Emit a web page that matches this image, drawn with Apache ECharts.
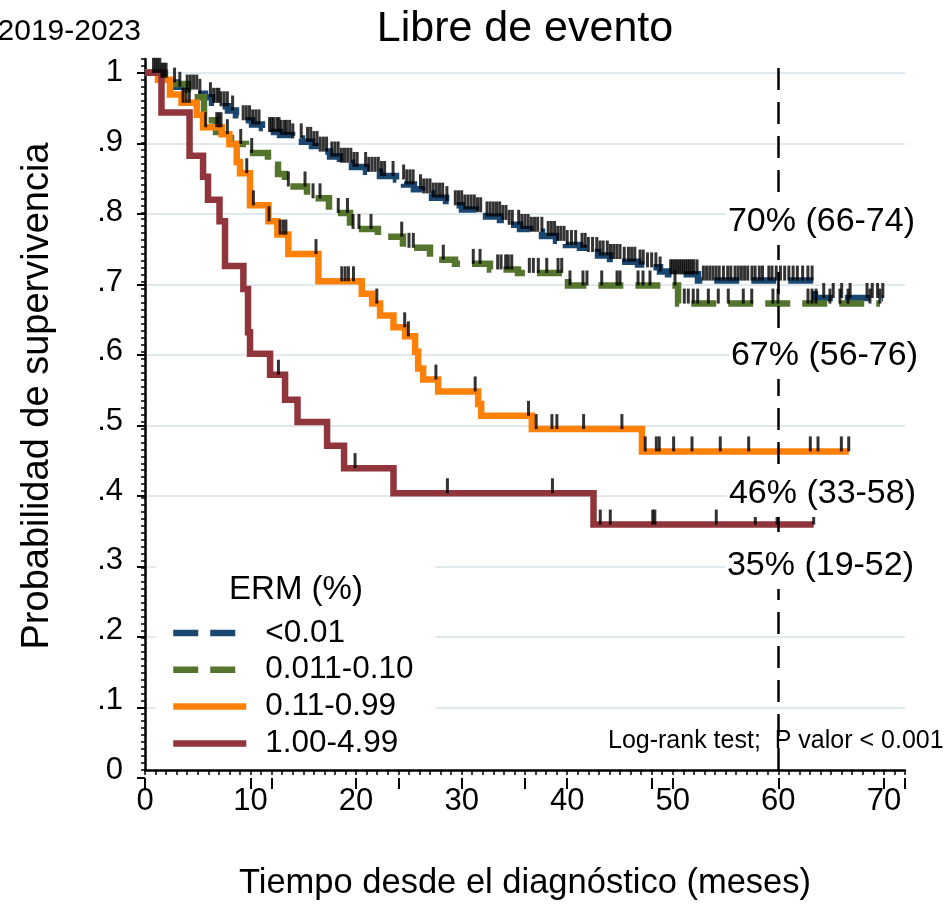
<!DOCTYPE html>
<html><head><meta charset="utf-8">
<script src="https://cdn.jsdelivr.net/npm/echarts@6/dist/echarts.min.js"></script>
<style>html,body{margin:0;padding:0;background:#fff}#c{width:952px;height:906px}</style>
</head><body><div id="c"></div>
<script>
const FONT = '"Liberation Sans", Arial, Helvetica, sans-serif';

// ---- categories / styles ----
const seriesNames = ['<0.01', '0.011-0.10', '0.11-0.99', '1.00-4.99'];
const seriesColors = ['#1a476f', '#55752f', '#fd8008', '#90353b'];

// ---- tick labels ----
const xTickValues = [0, 10, 20, 30, 40, 50, 60, 70];
const yTickValues = [0, 10, 20, 30, 40, 50, 60, 70, 80, 90, 100]; // in hundredths
const yTickLabels = ['0', '.1', '.2', '.3', '.4', '.5', '.6', '.7', '.8', '.9', '1'];

// ---- group <0.01 ----
const g1Times = [1.42, 2.18, 2.94, 3.88, 4.93, 5.68, 6.35, 7.11, 7.86, 8.62, 9.28, 10.14, 11.08, 11.65, 12.79, 13.93, 14.87, 15.82, 16.58, 17.53, 18.47, 19.61, 20.94, 22.26, 23.78, 24.54, 25.48, 26.24, 27.19, 28.52, 29.08, 30.03, 31.36, 32.31, 33.63, 34.39, 35.53, 36.47, 37.61, 38.94, 39.88, 41.21, 41.97, 42.92, 44.06, 45.19, 46.71, 47.47, 48.79, 49.55, 52.39, 63.47];
const g1Surv = [0.993, 0.986, 0.980, 0.976, 0.970, 0.965, 0.957, 0.952, 0.946, 0.939, 0.932, 0.926, 0.921, 0.915, 0.911, 0.906, 0.901, 0.895, 0.887, 0.880, 0.871, 0.865, 0.858, 0.852, 0.847, 0.840, 0.833, 0.827, 0.821, 0.816, 0.810, 0.804, 0.800, 0.794, 0.789, 0.782, 0.776, 0.772, 0.766, 0.759, 0.753, 0.749, 0.743, 0.738, 0.733, 0.729, 0.725, 0.721, 0.715, 0.711, 0.702, 0.677];
const g1End = 69.92;
const g1Censor = [0.8, 1.0, 1.2, 1.4, 1.6, 1.8, 2.0, 2.8, 3.3, 4.0, 4.3, 4.6, 4.9, 5.2, 6.2, 6.5, 6.8, 7.0, 7.2, 7.5, 7.8, 8.3, 9.3, 9.6, 9.9, 10.2, 10.5, 10.8, 11.8, 12.0, 12.2, 12.5, 12.7, 12.9, 13.2, 13.4, 13.7, 14.0, 14.8, 15.4, 15.7, 16.0, 16.3, 16.6, 16.9, 17.2, 17.7, 18.0, 18.3, 18.6, 18.9, 19.2, 19.5, 19.8, 20.1, 20.9, 21.2, 21.5, 21.8, 22.1, 22.4, 22.7, 23.5, 24.5, 24.8, 25.1, 25.4, 26.1, 26.4, 26.7, 27.0, 27.3, 27.6, 27.9, 28.2, 28.6, 29.4, 29.7, 30.0, 30.3, 30.6, 30.9, 31.2, 31.5, 31.8, 32.4, 32.7, 33.0, 33.3, 33.6, 33.9, 34.2, 34.5, 34.8, 35.4, 35.7, 36.0, 36.3, 36.6, 36.9, 37.2, 37.6, 38.2, 38.5, 38.8, 39.1, 39.4, 39.7, 40.0, 40.4, 40.8, 41.4, 41.7, 42.0, 42.4, 42.8, 43.1, 43.4, 43.8, 44.1, 44.4, 44.7, 45.0, 45.4, 45.8, 46.1, 46.4, 46.9, 47.2, 47.6, 48.0, 48.4, 48.8, 49.8, 50.0, 50.2, 50.4, 50.6, 50.8, 51.0, 51.2, 51.4, 51.6, 51.8, 52.0, 52.3, 52.9, 53.2, 53.5, 53.8, 54.1, 54.4, 54.8, 55.2, 55.5, 55.9, 56.2, 56.5, 56.8, 57.1, 57.5, 57.8, 58.2, 58.5, 59.1, 59.4, 59.8, 60.2, 60.6, 61.0, 61.4, 61.8, 62.3, 62.8, 63.2, 64.3, 65.2, 66.0, 66.8, 68.4, 68.9, 69.4, 69.9];

// ---- group 0.011-0.10 ----
const g2Times = [1.89, 4.07, 5.59, 6.73, 8.15, 9.57, 11.65, 12.60, 13.26, 15.35, 17.43, 19.42, 22.07, 24.44, 27.0, 29.37, 32.68, 35.34, 40.07, 50.50];
const g2Surv = [0.984, 0.965, 0.932, 0.915, 0.898, 0.885, 0.868, 0.855, 0.837, 0.820, 0.799, 0.776, 0.765, 0.749, 0.732, 0.726, 0.718, 0.713, 0.695, 0.669];
const g2End = 69.63;
const g2Censor = [9.07, 10.11, 13.58, 15.16, 15.92, 16.58, 18.31, 19.18, 19.71, 20.27, 21.41, 24.32, 25.01, 25.42, 28.26, 31.10, 31.74, 33.41, 33.73, 34.17, 34.42, 34.74, 36.41, 36.79, 37.26, 38.06, 39.13, 39.48, 40.26, 41.49, 41.87, 43.27, 44.72, 45.0, 46.71, 47.18, 47.84, 50.21, 51.09, 51.47, 51.94, 52.36, 53.37, 54.31, 55.26, 56.68, 57.48, 59.49, 59.97, 62.81, 63.19, 63.57, 64.89, 65.84, 66.6, 68.68, 69.63];

// ---- group 0.11-0.99 ----
const g3Times = [1.23, 2.37, 3.46, 4.90, 5.50, 7.27, 7.99, 8.69, 9.00, 9.95, 11.69, 12.54, 13.58, 16.43, 20.54, 21.52, 22.27, 23.54, 24.64, 25.59, 25.88, 26.35, 27.77, 31.56, 31.85, 36.65, 47.08];
const g3Surv = [0.990, 0.969, 0.957, 0.940, 0.922, 0.912, 0.898, 0.872, 0.856, 0.810, 0.787, 0.768, 0.740, 0.701, 0.683, 0.669, 0.652, 0.635, 0.622, 0.600, 0.576, 0.560, 0.543, 0.525, 0.508, 0.489, 0.457];
const g3End = 66.67;
const g3Censor = [3.6, 3.9, 4.2, 5.75, 6.8, 7.0, 7.2, 7.8, 9.64, 10.27, 11.75, 12.8, 13.1, 13.35, 16.2, 18.64, 18.96, 19.27, 19.75, 21.96, 24.6, 24.95, 27.56, 31.28, 36.33, 37.06, 38.55, 39.02, 41.55, 45.18, 47.39, 48.44, 48.72, 50.08, 51.82, 54.5, 57.19, 63.03, 63.76, 65.97, 66.67];

// ---- group 1.00-4.99 ----
const g4Times = [1.56, 4.22, 5.50, 5.97, 7.06, 7.58, 9.32, 9.76, 9.95, 11.85, 13.27, 14.45, 17.25, 18.86, 23.54, 42.49];
const g4Surv = [0.943, 0.881, 0.851, 0.818, 0.787, 0.723, 0.690, 0.628, 0.597, 0.567, 0.531, 0.499, 0.465, 0.433, 0.397, 0.352];
const g4End = 63.35;
const g4Censor = [12.64, 19.9, 28.65, 38.6, 43.13, 44.08, 48.1, 48.3, 54.12, 57.82, 59.88, 63.35];

// ---- annotations ----
const refTime = 60;
const estLabels = ['70% (66-74)', '67% (56-76)', '46% (33-58)', '35% (19-52)'];

const groups = [
  {t: g1Times, s: g1Surv, end: g1End, c: g1Censor, dash: [25, 12]},
  {t: g2Times, s: g2Surv, end: g2End, c: g2Censor, dash: [25, 12]},
  {t: g3Times, s: g3Surv, end: g3End, c: g3Censor, dash: 'solid'},
  {t: g4Times, s: g4Surv, end: g4End, c: g4Censor, dash: 'solid'}
];

function stepData(g) {
  const d = [[0, 1]];
  for (let i = 0; i < g.t.length; i++) d.push([g.t[i], g.s[i]]);
  d.push([g.end, g.s[g.s.length - 1]]);
  return d;
}
function survAt(g, t) {
  let s = 1;
  for (let i = 0; i < g.t.length; i++) if (g.t[i] <= t) s = g.s[i];
  return s;
}

const series = [];
groups.forEach((g, i) => {
  const ser = {
    name: seriesNames[i], type: 'line', step: 'end', xAxisIndex: 0, yAxisIndex: 0,
    data: stepData(g), showSymbol: false, symbol: 'none', silent: true, z: 2 + i * 0.1,
    lineStyle: {color: seriesColors[i], width: 6.5, type: g.dash, cap: 'butt', join: 'miter'},
    itemStyle: {color: seriesColors[i]}
  };
  if (i === 0) {
    ser.markLine = {
      silent: true, symbol: 'none', label: {show: false},
      lineStyle: {color: '#000', width: 2.5, type: [22, 12]},
      data: [{xAxis: refTime}]
    };
  }
  series.push(ser);
});
groups.forEach((g, i) => {
  series.push({
    name: 'cens' + i, type: 'scatter', xAxisIndex: 0, yAxisIndex: 0, silent: true, z: 5,
    symbol: 'rect', symbolSize: [3, 15], symbolOffset: [0, -7.5],
    itemStyle: {color: '#000'},
    data: g.c.map(t => [t, survAt(g, t)])
  });
});

const L = 145, R = 47, B = 128, TOP = 58.9, TOP1 = 73, R70 = 68.11;
const tickStyle = {color: '#000', width: 2};

const option = {
  animation: false,
  backgroundColor: '#fff',
  grid: [
    {left: L, right: R, top: TOP, bottom: B},
    {left: L, right: R, top: TOP1, bottom: B},
    {left: L, right: R70, top: TOP, bottom: B},
    {left: L, right: R, top: TOP, bottom: B}
  ],
  xAxis: [
    {gridIndex: 0, type: 'value', min: 0, max: 72, interval: 1,
     axisLine: {show: true, lineStyle: {color: '#000', width: 2.5}},
     axisTick: {show: true, length: 5, lineStyle: {color: '#000', width: 1.5}},
     axisLabel: {show: true, margin: 16, color: '#000', fontSize: 31, fontFamily: FONT,
       formatter: v => (xTickValues.indexOf(Math.round(v)) >= 0 ? String(Math.round(v)) : '')},
     splitLine: {show: false},
     name: 'Tiempo desde el diagnóstico (meses)', nameLocation: 'middle', nameGap: 96,
     nameTextStyle: {color: '#000', fontSize: 34.5, fontFamily: FONT}},
    {gridIndex: 1, type: 'value', min: 0, max: 72, show: false},
    {gridIndex: 2, type: 'value', min: 0, max: 70, interval: 10,
     axisLine: {show: false}, axisTick: {show: true, length: 11, lineStyle: tickStyle},
     axisLabel: {show: false}, splitLine: {show: false}},
    {gridIndex: 3, type: 'value', min: 0, max: 72, interval: 12,
     axisLine: {show: false}, axisTick: {show: true, length: 11, lineStyle: tickStyle},
     axisLabel: {show: false}, splitLine: {show: false}}
  ],
  yAxis: [
    {gridIndex: 0, type: 'value', min: 0, max: 1.02, interval: 0.01,
     axisLine: {show: true, lineStyle: {color: '#000', width: 2.5}},
     axisTick: {show: true, length: 4, lineStyle: {color: '#000', width: 1.5}},
     axisLabel: {show: true, margin: 22, color: '#000', fontSize: 31, fontFamily: FONT,
       formatter: v => { const k = yTickValues.indexOf(Math.round(v * 100)); return k >= 0 ? yTickLabels[k] : ''; }},
     splitLine: {show: false}},
    {gridIndex: 1, type: 'value', min: 0, max: 1, interval: 0.1,
     axisLine: {show: false}, axisTick: {show: true, length: 8, lineStyle: tickStyle},
     axisLabel: {show: false},
     splitLine: {show: true, showMinLine: false, lineStyle: {color: '#d6e2e9', width: 1.6}}},
    {gridIndex: 2, type: 'value', min: 0, max: 1.02, show: false},
    {gridIndex: 3, type: 'value', min: 0, max: 1.02, show: false}
  ],
  legend: {
    data: seriesNames, orient: 'vertical', left: 156, top: 562, padding: [55, 22, 6, 14],
    backgroundColor: '#fff', itemWidth: 73, itemHeight: 14, itemGap: 4.8, selectedMode: false,
    lineStyle: {width: 6.5},
    itemStyle: {opacity: 0, borderWidth: 0},
    textStyle: {color: '#000', fontSize: 31.5, fontFamily: FONT, lineHeight: 30, padding: [0, 0, 0, 14]}
  },
  graphic: [
    {type: 'text', x: 525, y: 29, z: 100, style: {text: 'Libre de evento', fontSize: 43, fontFamily: FONT, fill: '#000', align: 'center', verticalAlign: 'middle'}},
    {type: 'text', x: 141, y: 32, z: 100, style: {text: '2019-2023', fontSize: 30, fontFamily: FONT, fill: '#000', align: 'right', verticalAlign: 'middle'}},
    {type: 'text', x: 38, y: 396, rotation: Math.PI / 2, z: 100, style: {text: 'Probabilidad de supervivencia', fontSize: 38, fontFamily: FONT, fill: '#000', align: 'center', verticalAlign: 'middle'}},
    {type: 'text', x: 296, y: 590, z: 100, style: {text: 'ERM (%)', fontSize: 33, fontFamily: FONT, fill: '#000', align: 'center', verticalAlign: 'middle'}},
    {type: 'text', x: 917, y: 222, z: 100, style: {text: estLabels[0], fontSize: 34, fontFamily: FONT, fill: '#000', align: 'right', verticalAlign: 'middle', backgroundColor: '#fff', padding: [6, 2]}},
    {type: 'text', x: 920, y: 356, z: 100, style: {text: estLabels[1], fontSize: 34, fontFamily: FONT, fill: '#000', align: 'right', verticalAlign: 'middle', backgroundColor: '#fff', padding: [6, 2]}},
    {type: 'text', x: 918, y: 494, z: 100, style: {text: estLabels[2], fontSize: 34, fontFamily: FONT, fill: '#000', align: 'right', verticalAlign: 'middle', backgroundColor: '#fff', padding: [6, 2]}},
    {type: 'text', x: 916, y: 566, z: 100, style: {text: estLabels[3], fontSize: 34, fontFamily: FONT, fill: '#000', align: 'right', verticalAlign: 'middle', backgroundColor: '#fff', padding: [6, 2]}},
    {type: 'text', x: 608, y: 741, z: 100, style: {text: 'Log-rank test;  P valor < 0.001', fontSize: 25, fontFamily: FONT, fill: '#000', align: 'left', verticalAlign: 'middle'}}
  ],
  series: series
};

const chart = echarts.init(document.getElementById('c'), null, {renderer: 'canvas'});
chart.setOption(option);
</script>
</body></html>
